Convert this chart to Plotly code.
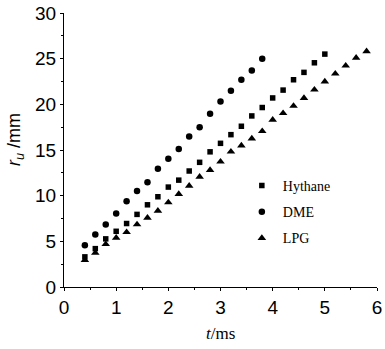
import plotly.graph_objects as go

t_dme = [0.4, 0.6, 0.8, 1.0, 1.2, 1.4, 1.6, 1.8, 2.0, 2.2, 2.4, 2.6, 2.8, 3.0, 3.2, 3.4, 3.6, 3.8]
r_dme = [4.58, 5.75, 6.85, 8.05, 9.4, 10.5, 11.46, 12.95, 14.05, 15.1, 16.47, 17.5, 18.96, 20.3, 21.48, 22.7, 23.7, 25.0]

t_hyt = [0.4, 0.6, 0.8, 1.0, 1.2, 1.4, 1.6, 1.8, 2.0, 2.2, 2.4, 2.6, 2.8, 3.0, 3.2, 3.4, 3.6, 3.8, 4.0, 4.2, 4.4, 4.6, 4.8, 5.0]
r_hyt = [3.3, 4.2, 5.27, 6.1, 6.95, 7.95, 9.0, 9.88, 10.94, 11.7, 12.7, 13.65, 14.8, 15.73, 16.68, 17.6, 18.73, 19.65, 20.7, 21.56, 22.69, 23.5, 24.55, 25.5]

t_lpg = [0.4, 0.6, 0.8, 1.0, 1.2, 1.4, 1.6, 1.8, 2.0, 2.2, 2.4, 2.6, 2.8, 3.0, 3.2, 3.4, 3.6, 3.8, 4.0, 4.2, 4.4, 4.6, 4.8, 5.0, 5.2, 5.4, 5.6, 5.8]
r_lpg = [2.95, 3.73, 4.69, 5.38, 6.0, 6.85, 7.57, 8.34, 9.26, 10.17, 11.08, 12.07, 12.8, 13.72, 14.82, 15.48, 16.25, 17.06, 18.3, 19.03, 19.83, 20.68, 21.6, 22.5, 23.35, 24.23, 25.1, 25.8]

x_ticks = [0, 1, 2, 3, 4, 5, 6]
y_ticks = [0, 5, 10, 15, 20, 25, 30]

fig = go.Figure()
fig.add_trace(go.Scatter(x=t_hyt, y=r_hyt, mode="markers", name="Hythane", legendgroup="a",
                         marker=dict(symbol="square", size=5.5, color="black")))
fig.add_trace(go.Scatter(x=t_dme, y=r_dme, mode="markers", name="DME", legendgroup="b",
                         marker=dict(symbol="circle", size=6.5, color="black")))
fig.add_trace(go.Scatter(x=t_lpg, y=r_lpg, mode="markers", name="LPG", legendgroup="c",
                         marker=dict(symbol="triangle-up", size=7.5, color="black")))

axis_common = dict(
    showgrid=False, zeroline=False, showline=True, linecolor="black", linewidth=1,
    ticks="outside", ticklen=3, tickwidth=1, tickcolor="black",
    tickfont=dict(family="Liberation Sans, Arial", size=19, color="black"),
    mirror=False, automargin=False, ticklabeloverflow="allow",
)
fig.update_xaxes(range=[0, 6], tickvals=x_ticks, ticktext=[str(v) for v in x_ticks],
                 minor=dict(ticks="outside", ticklen=2, dtick=0.5, tickcolor="black", tickwidth=1),
                 **axis_common)
fig.update_yaxes(range=[0, 30], tickvals=y_ticks, ticktext=[str(v) for v in y_ticks],
                 minor=dict(ticks="outside", ticklen=2, dtick=2.5, tickcolor="black", tickwidth=1),
                 **axis_common)

fig.add_annotation(text="<i>t</i>/ms", xref="paper", yref="paper", x=0.5, y=-0.168,
                   showarrow=False, yanchor="middle", xanchor="center",
                   font=dict(family="Liberation Serif, Times New Roman", size=17, color="black"))
fig.add_annotation(text="<i>r</i><sub><i>u</i></sub> /mm", xref="paper", yref="paper",
                   x=-0.157, y=0.54, textangle=-90, showarrow=False,
                   xanchor="center", yanchor="middle",
                   font=dict(family="Liberation Sans, Arial", size=18, color="black"))

fig.update_layout(
    width=385, height=349,
    margin=dict(l=64, r=8, t=13, b=62, autoexpand=False),
    paper_bgcolor="white", plot_bgcolor="white",
    showlegend=True,
    legend=dict(x=0.565, y=0.427, xanchor="left", yanchor="top", bgcolor="rgba(0,0,0,0)",
                font=dict(family="Liberation Serif, Times New Roman", size=14, color="black"),
                tracegroupgap=5, itemwidth=32),
)

fig.write_html("out.html", config={"displayModeBar": False},
               post_script="document.body.style.margin='0';document.body.style.overflow='hidden';")
